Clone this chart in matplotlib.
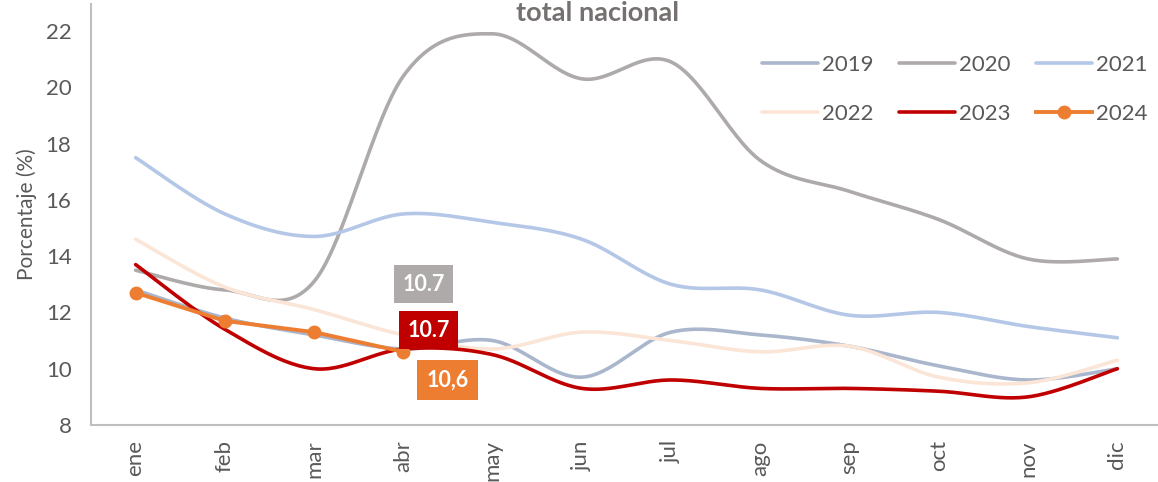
"""Tasa de desempleo mensual, total nacional, 2019-2024."""

import numpy as np
import matplotlib
matplotlib.use("Agg")
import matplotlib.pyplot as plt

months = ["ene", "feb", "mar", "abr", "may", "jun", "jul", "ago", "sep", "oct", "nov", "dic"]

y2019 = [12.8, 11.8, 11.2, 10.7, 11.0, 9.7, 11.3, 11.2, 10.8, 10.1, 9.6, 10.0]
y2020 = [13.5, 12.8, 13.1, 20.4, 21.9, 20.3, 20.9, 17.4, 16.3, 15.3, 13.9, 13.9]
y2021 = [17.5, 15.5, 14.7, 15.5, 15.2, 14.6, 13.0, 12.8, 11.9, 12.0, 11.5, 11.1]
y2022 = [14.6, 12.9, 12.1, 11.2, 10.7, 11.3, 11.0, 10.6, 10.8, 9.7, 9.5, 10.3]
y2023 = [13.7, 11.4, 10.0, 10.7, 10.5, 9.3, 9.6, 9.3, 9.3, 9.2, 9.0, 10.0]
y2024 = [12.7, 11.7, 11.3, 10.6]

series = [
    ("2019", y2019, "#A9B6CC"),
    ("2020", y2020, "#AEAAAA"),
    ("2021", y2021, "#B4C7E7"),
    ("2022", y2022, "#FBE5D6"),
    ("2023", y2023, "#C00000"),
]

# data labels shown at abr: (text, colour, offset in px from the abr point of 2023)
labels = [("10.7", "#AEAAAA", (20, 65)), ("10.7", "#C00000", (25, 19))]


def smooth(x, y, n=30):
    """Bezier smoothing like spreadsheet 'smoothed line'."""
    x = np.asarray(x, float)
    y = np.asarray(y, float)
    px, py = [], []
    for i in range(len(x) - 1):
        x0, y0 = (x[i - 1], y[i - 1]) if i > 0 else (x[i], y[i])
        x3, y3 = (x[i + 2], y[i + 2]) if i + 2 < len(x) else (x[i + 1], y[i + 1])
        c1x = x[i] + (x[i + 1] - x0) / 6
        c1y = y[i] + (y[i + 1] - y0) / 6
        c2x = x[i + 1] - (x3 - x[i]) / 6
        c2y = y[i + 1] - (y3 - y[i]) / 6
        t = np.linspace(0, 1, n)
        a, b, c, d = (1 - t) ** 3, 3 * t * (1 - t) ** 2, 3 * t ** 2 * (1 - t), t ** 3
        px.extend(a * x[i] + b * c1x + c * c2x + d * x[i + 1])
        py.extend(a * y[i] + b * c1y + c * c2y + d * y[i + 1])
    return np.array(px), np.array(py)


plt.rcParams["font.family"] = ["Lato", "DejaVu Sans"]
txt = "#595959"

fig = plt.figure(figsize=(11.58, 4.82), dpi=100)
ax = fig.add_axes([91 / 1158, 1 - 425 / 482, 1071 / 1158, 421 / 482])

xs = np.arange(len(months))
handles = {}
for name, vals, col in series:
    sx, sy = smooth(xs, vals)
    handles[name], = ax.plot(sx, sy, color=col, lw=2.6, label=name, solid_capstyle="round")
handles["2024"], = ax.plot(xs[:len(y2024)], y2024, color="#ED7D31", lw=2.8, marker="o", ms=9, label="2024")

ax.set_xlim(-0.5, 11.5)
ax.set_ylim(8, 22.96)
ax.set_yticks(np.arange(8, 23, 2))
ax.set_xticks(xs)
ax.set_xticklabels(months, rotation=90)
ax.tick_params(length=0, labelsize=16, colors=txt)
ax.tick_params(axis="y", pad=14)
ax.tick_params(axis="x", pad=11)
for s in ["top", "right"]:
    ax.spines[s].set_visible(False)
for s in ["left", "bottom"]:
    ax.spines[s].set_color("#BFBFBF")
    ax.spines[s].set_linewidth(1.5)
ax.set_ylabel("Porcentaje (%)", fontsize=15, color=txt, labelpad=6)

fig.text(598 / 1158, 1 - 21 / 482, "total nacional", ha="center", va="baseline",
         fontsize=19.5, fontweight="bold", color="#767171")

for text, col, (dx, dy) in labels:
    ax.annotate(text, (3, y2023[3]), xytext=(dx * 0.72, dy * 0.72), textcoords="offset points",
                ha="center", va="center", fontsize=15.5, fontweight="bold", color="white",
                bbox=dict(boxstyle="square,pad=0.4", fc=col, ec="none"))
ax.annotate("10,6", (3, y2024[3]), xytext=(44 * 0.72, -28 * 0.72), textcoords="offset points",
            ha="center", va="center", fontsize=15.5, fontweight="bold", color="white",
            bbox=dict(boxstyle="square,pad=0.45", fc="#ED7D31", ec="none"))

# legend fills by column, so order for rows 2019-2021 / 2022-2024
order = ["2019", "2022", "2020", "2023", "2021", "2024"]
leg = ax.legend([handles[k] for k in order], order, ncol=3, loc="upper left",
                bbox_to_anchor=(762 / 1158, 1 - 55 / 482),
                bbox_transform=fig.transFigure, frameon=False, fontsize=16,
                handlelength=2.5, handletextpad=0.2, columnspacing=1.15, labelspacing=1.3,
                borderpad=0, borderaxespad=0)
for t in leg.get_texts():
    t.set_color(txt)

fig.savefig("out.png", dpi=100)
